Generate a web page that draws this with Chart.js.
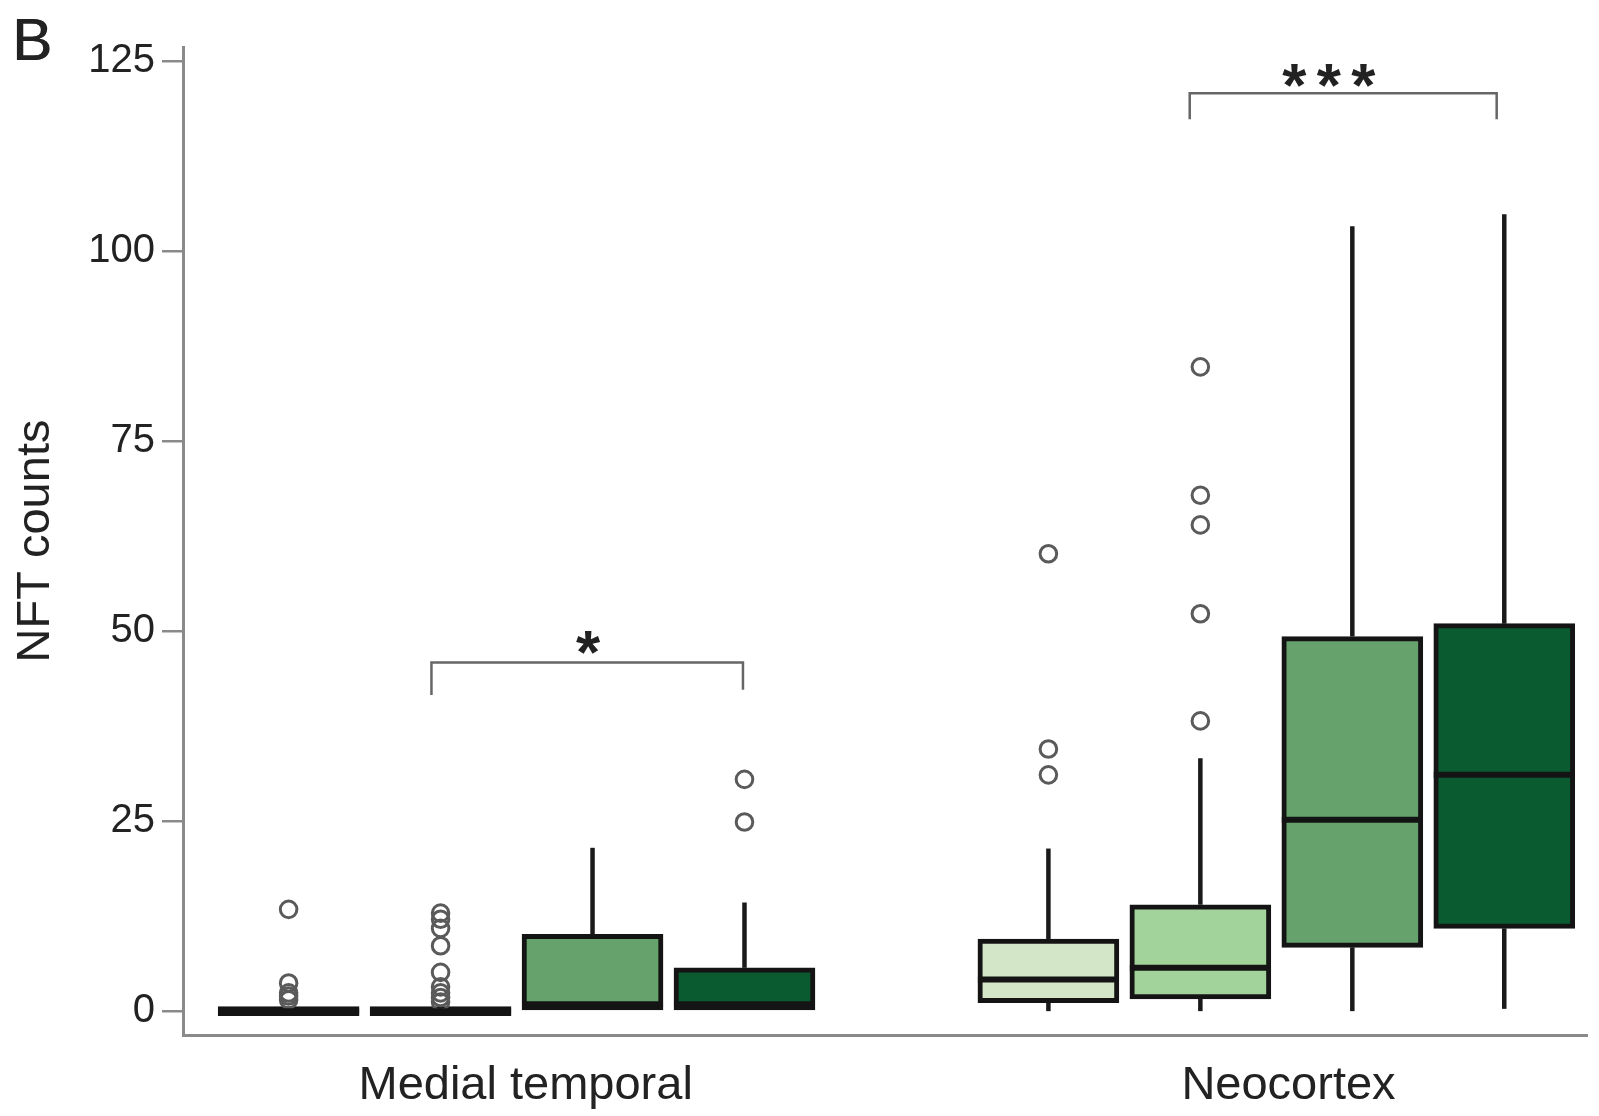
<!DOCTYPE html>
<html>
<head>
<meta charset="utf-8">
<script src="https://cdn.jsdelivr.net/npm/chart.js@4.4.1/dist/chart.umd.min.js"></script>
<style>
html,body{margin:0;padding:0;background:#fff;}
#wrap{position:relative;width:1599px;height:1116px;}
</style>
</head>
<body>
<div id="wrap"><canvas id="c" width="1599" height="1116"></canvas></div>
<script>
// ---- data ----
const panelLetter = 'B';
const yTitle = 'NFT counts';
const groupLabels = ['Medial temporal', 'Neocortex'];
const groupCenters = [2.56, 7.58];
const yTicks = [0, 25, 50, 75, 100, 125];

const positions   = [1, 2, 3, 4, 6, 7, 8, 9];
const q1          = [0, 0, 0,    0,    1.1,  1.6,  8.4,  10.9];
const medians     = [0, 0, 0.9,  0.9,  4.15, 5.7,  25.2, 31.1];
const q3          = [0, 0, 10.1, 5.7,  9.5,  14.0, 49.3, 51.0];
const whiskerLow  = [0, 0, 0,    0,    0,    0,    0,    0.3];
const whiskerHigh = [0, 0, 21.5, 14.3, 21.4, 33.3, 103.3, 104.9];
const outliers = [
  [13.4, 3.7, 2.4, 2.0, 1.5],
  [12.9, 12.1, 10.9, 8.6, 5.1, 3.2, 2.4, 1.8, 1.2],
  [],
  [30.5, 24.9],
  [60.2, 34.5, 31.1],
  [84.8, 67.9, 64.0, 52.3, 38.2],
  [],
  []
];
const boxColors = ['#d3e7c8', '#a2d39b', '#65a26c', '#0b5b30',
                   '#d3e7c8', '#a2d39b', '#65a26c', '#0b5b30'];

// significance brackets
const bracketFrom     = [1.94, 6.93];
const bracketTo       = [3.99, 8.95];
const bracketTop      = [45.9, 120.8];
const bracketLeftEnd  = [41.6, 117.4];
const bracketRightEnd = [42.3, 117.4];
const bracketLabels   = ['*', '***'];
const bracketLabelX   = [2.97, 7.845];
const bracketLabelY   = [48.2, 122.9];

// ---- chart ----
const FONT = "'Liberation Sans', Arial, Helvetica, sans-serif";
const TEXT = '#222';
const AXIS = '#8a8a8a';

const boxData = positions.map((p, i) => ({ x: p, y: [q1[i], q3[i]] }));
const outlierData = [];
positions.forEach((p, i) => outliers[i].forEach(v => outlierData.push({ x: p, y: v })));

const boxParts = {
  id: 'boxParts',
  beforeDatasetsDraw(chart) {
    const { ctx, scales: { x, y } } = chart;
    ctx.save();
    ctx.strokeStyle = '#1a1a1a';
    ctx.lineWidth = 4.5;
    ctx.lineCap = 'butt';
    positions.forEach((p, i) => {
      const px = x.getPixelForValue(p);
      if (whiskerHigh[i] > q3[i]) {
        ctx.beginPath();
        ctx.moveTo(px, y.getPixelForValue(q3[i]));
        ctx.lineTo(px, y.getPixelForValue(whiskerHigh[i]));
        ctx.stroke();
      }
      if (whiskerLow[i] < q1[i]) {
        ctx.beginPath();
        ctx.moveTo(px, y.getPixelForValue(q1[i]));
        ctx.lineTo(px, y.getPixelForValue(whiskerLow[i]));
        ctx.stroke();
      }
    });
    ctx.restore();
  },
  afterDatasetsDraw(chart) {
    const { ctx, scales: { x, y } } = chart;
    const bars = chart.getDatasetMeta(1).data;
    ctx.save();
    // medians
    ctx.strokeStyle = '#141414';
    ctx.lineWidth = 6;
    positions.forEach((p, i) => {
      const b = bars[i];
      const py = y.getPixelForValue(medians[i]);
      ctx.beginPath();
      ctx.moveTo(b.x - b.width / 2, py);
      ctx.lineTo(b.x + b.width / 2, py);
      ctx.stroke();
    });
    // brackets
    ctx.strokeStyle = '#666';
    ctx.lineWidth = 2.5;
    ctx.lineJoin = 'miter';
    bracketFrom.forEach((f, i) => {
      const x1 = x.getPixelForValue(f), x2 = x.getPixelForValue(bracketTo[i]);
      const yt = y.getPixelForValue(bracketTop[i]);
      ctx.beginPath();
      ctx.moveTo(x1, y.getPixelForValue(bracketLeftEnd[i]));
      ctx.lineTo(x1, yt);
      ctx.lineTo(x2, yt);
      ctx.lineTo(x2, y.getPixelForValue(bracketRightEnd[i]));
      ctx.stroke();
      // stars
      const size = 62;
      ctx.font = 'bold ' + size + 'px ' + FONT;
      ctx.fillStyle = TEXT;
      ctx.textAlign = 'center';
      ctx.textBaseline = 'alphabetic';
      const chars = bracketLabels[i].split('');
      const cx = x.getPixelForValue(bracketLabelX[i]);
      const cy = y.getPixelForValue(bracketLabelY[i]);
      const gap = 34.5;
      chars.forEach((ch, k) => {
        const sx = cx + (k - (chars.length - 1) / 2) * gap;
        ctx.fillText(ch, sx, cy + 0.46 * size);
      });
    });
    // panel letter
    ctx.font = '60px ' + FONT;
    ctx.fillStyle = TEXT;
    ctx.textAlign = 'left';
    ctx.textBaseline = 'alphabetic';
    ctx.fillText(panelLetter, 12, 60);
    ctx.fillText(panelLetter, 12.8, 60);
    ctx.restore();
  }
};

new Chart(document.getElementById('c'), {
  type: 'bar',
  data: {
    datasets: [
      {
        type: 'scatter',
        data: outlierData,
        pointStyle: 'circle',
        pointRadius: 8.3,
        pointHoverRadius: 8.3,
        pointBorderWidth: 3,
        pointBorderColor: '#5a5a5a',
        pointBackgroundColor: 'rgba(0,0,0,0)',
        showLine: false
      },
      {
        type: 'bar',
        data: boxData,
        backgroundColor: boxColors,
        borderColor: '#141414',
        borderWidth: 5,
        borderSkipped: false,
        barThickness: 141,
        minBarLength: 9,
        grouped: false
      }
    ]
  },
  options: {
    responsive: false,
    animation: false,
    devicePixelRatio: 1,
    layout: { padding: { top: 47, right: 6, left: 0, bottom: 0 } },
    plugins: { legend: { display: false }, tooltip: { enabled: false } },
    scales: {
      x: {
        type: 'linear',
        min: 0.305,
        max: 9.549,
        offset: false,
        afterBuildTicks(scale) { scale.ticks = groupCenters.map(v => ({ value: v })); },
        afterFit(scale) { scale.height = 81; },
        grid: { display: true, drawOnChartArea: false, drawTicks: false, color: 'rgba(0,0,0,0)' },
        border: { display: true, color: AXIS, width: 3 },
        ticks: {
          autoSkip: false,
          maxRotation: 0,
          padding: 23,
          color: TEXT,
          font: { family: FONT, size: 47 },
          callback: (v, i) => groupLabels[i]
        }
      },
      y: {
        type: 'linear',
        min: -3.14,
        max: 126.9,
        afterBuildTicks(scale) { scale.ticks = yTicks.map(v => ({ value: v })); },
        afterFit(scale) { scale.width = 183; },
        grid: { display: true, drawOnChartArea: false, drawTicks: true, tickLength: 21, color: AXIS, lineWidth: 2.5 },
        border: { display: true, color: AXIS, width: 3 },
        ticks: {
          padding: 7,
          color: TEXT,
          font: { family: FONT, size: 40 },
          callback: v => String(v)
        },
        title: {
          display: true,
          text: yTitle,
          color: TEXT,
          font: { family: FONT, size: 47 },
          padding: { top: 8, bottom: 0 }
        }
      }
    }
  },
  plugins: [boxParts]
});
</script>
</body>
</html>
